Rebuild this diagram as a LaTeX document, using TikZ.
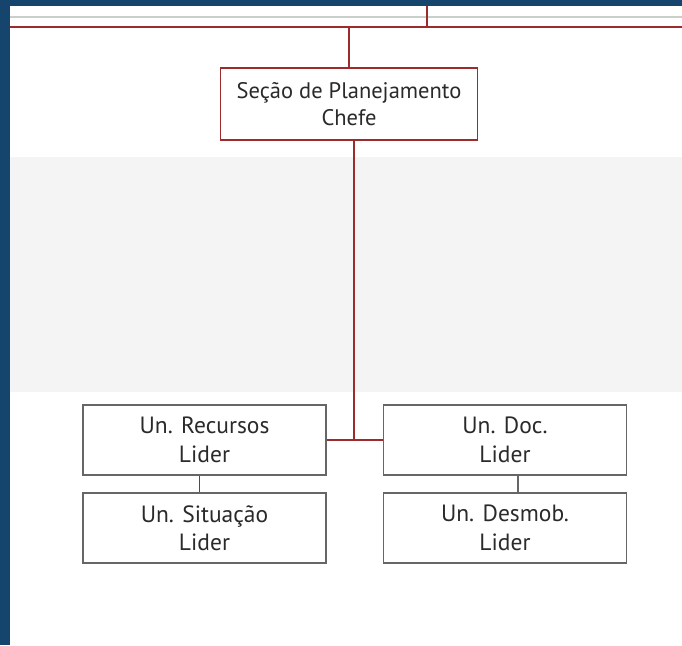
\documentclass[tikz,border=0pt]{standalone}
\usepackage{fontspec}
\setmainfont{PT Sans}
\definecolor{navy}{HTML}{15446C}
\definecolor{linered}{HTML}{9C2B2B}
\definecolor{boxgray}{HTML}{666666}
\definecolor{bandgray}{HTML}{F4F4F4}
\definecolor{rulegray}{HTML}{C9CFC9}
\definecolor{txtgray}{HTML}{2A2A2A}

\begin{document}
\begin{tikzpicture}[x=1pt, y=-1pt,
    unitbox/.style = {draw = boxgray, line width = 1.8pt, fill = white, minimum width = 243pt, minimum height = 70pt,
                      align = center, text = txtgray, font = \fontsize{23.5}{28.5}\selectfont, inner sep = 0pt},
    chiefbox/.style = {unitbox, draw = linered, minimum width = 257pt, minimum height = 72pt,
                       font = \fontsize{22.5}{27}\selectfont},
    redline/.style = {draw = linered, line width = 1.8pt}]
    \useasboundingbox (0,0) rectangle (682,645);

    % background frame and band
    \fill [white] (0,0) rectangle (682,645);
    \fill [bandgray] (10,157) rectangle (682,392);
    \fill [navy] (0,0) rectangle (682,6);
    \fill [navy] (0,0) rectangle (10,645);

    % rules coming from above
    \draw [rulegray, line width = 2pt] (10,17)  --  (682,17);
    \coordinate (topleft) at (10,27);
    \coordinate (topright) at (682,27);
    \coordinate (feed) at (427,6);
    \draw [redline] (topleft)  --  (topright);
    \draw [redline] (feed)  --  (feed |- topright);

    % boxes
    \node [chiefbox] (sec) at (349,104) {Seção de Planejamento\\Chefe};
    \node [unitbox] (urec) at (204.5,440) {Un. Recursos\\Lider};
    \node [unitbox] (usit) at (204.5,528) {Un. Situação\\Lider};
    \node [unitbox] (udoc) at (505,440) {Un. Doc.\\Lider};
    \node [unitbox] (udes) at (505,528) {Un. Desmob.\\Lider};

    % connectors
    \coordinate (junct) at (354,440);
    \draw [redline] (sec.north)  --  (sec.north |- topright);
    \draw [redline] (sec.south -| junct)  --  (junct);
    \draw [redline] (urec.east)  --  (udoc.west);
    \draw [redline] ([xshift = -5pt]urec.south)  --  ([xshift = -5pt]usit.north);
    \draw [boxgray, line width = 1.8pt] ([xshift = 13pt]udoc.south)  --  ([xshift = 13pt]udes.north);
\end{tikzpicture}
\end{document}
